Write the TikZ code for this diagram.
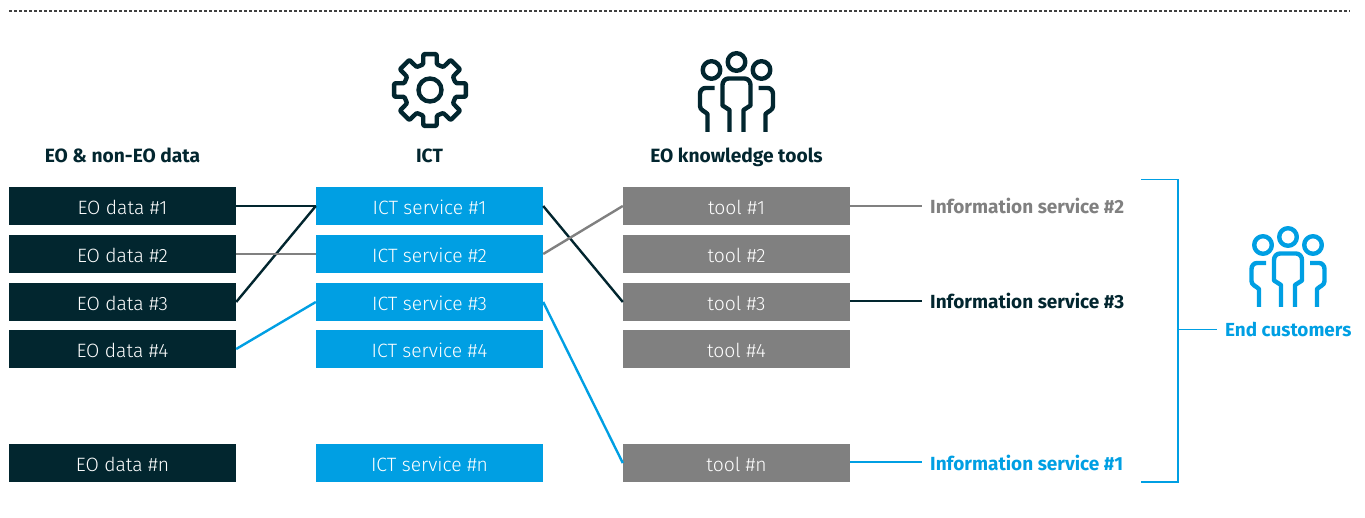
\documentclass[tikz,border=0pt]{standalone}
\usepackage{fontspec}
\setmainfont{Fira Sans}
\newfontfamily\lightf{Fira Sans Light}
\definecolor{dk}{HTML}{02262F}
\definecolor{bl}{HTML}{009FE3}
\definecolor{gy}{HTML}{808080}
\tikzset{
  x=1pt,y=-1pt,
  boxs/.style={minimum width=227pt,minimum height=38pt,inner sep=0pt,text=white,text height=18.5pt,text depth=2pt,font=\lightf\fontsize{19.3}{20}\selectfont},
  dkbox/.style={boxs,fill=dk},
  blbox/.style={boxs,fill=bl},
  gybox/.style={boxs,fill=gy},
  head/.style={font=\bfseries\fontsize{19.2}{20}\selectfont,text=dk,inner sep=0pt,text height=18pt,text depth=2pt},
  info/.style={font=\bfseries\fontsize{19}{20}\selectfont,anchor=west,inner sep=8pt,text height=18pt,text depth=2pt},
  conn/.style={line width=2.4pt},
  brk/.style={line width=1.1pt,draw=bl},
  people/.pic={
    \begin{scope}[line width=4.4pt,line join=round]
    \draw (0,-27) circle[radius=8.8];
    \draw (-25,-19) circle[radius=8.8];
    \draw (25,-19) circle[radius=8.8];
    \draw (-7,43) -- (-7,21) -- (-14,16.5) -- (-14,-4) to[out=90,in=180] (-8,-10.5) -- (8,-10.5) to[out=0,in=90] (14,-4) -- (14,16.5) -- (7,21) -- (7,43);
    \draw (-22,-1) -- (-31,-1) to[out=180,in=90] (-36.5,5) -- (-36.5,17) to[out=-90,in=135] (-29,25) -- (-29,43);
    \draw (22,-1) -- (31,-1) to[out=0,in=90] (36.5,5) -- (36.5,17) to[out=-90,in=45] (29,25) -- (29,43);
    \end{scope}
  }
}
\begin{document}
\begin{tikzpicture}
\useasboundingbox (0,0) rectangle (1365,518);
\draw[line width=2pt,draw=black!75,dash pattern=on 2.5pt off 2.5pt] (9,11) -- (1350,11);
% gear
\begin{scope}[shift={(430,90)}]
\draw[dk,line width=4.4pt,line join=round,rounded corners=1pt]
  (-15:26.5) \foreach \a in {0,45,...,315}{
     -- ({\a-15}:26.5) -- ({\a-10.5}:36.5) -- ({\a+10.5}:36.5) -- ({\a+15}:26.5)
  } -- cycle;
\draw[dk,line width=4.4pt] (0,0) circle[radius=11.5];
\end{scope}
\pic[dk] at (736.5,89) {people};
\pic[bl] at (1288,264) {people};
\node[head] (h1) at (122.5,155) {EO \& non-EO data};
\node[head] (h2) at (429.5,155) {ICT};
\node[head] (h3) at (736.5,155) {EO knowledge tools};
\node[dkbox] (e1) at (122.5,206) {EO data \#1};
\node[dkbox] (e2) at (122.5,254) {EO data \#2};
\node[dkbox] (e3) at (122.5,302) {EO data \#3};
\node[dkbox] (e4) at (122.5,349) {EO data \#4};
\node[dkbox] (en) at (122.5,463) {EO data \#n};
\node[blbox] (c1) at (429.5,206) {ICT service \#1};
\node[blbox] (c2) at (429.5,254) {ICT service \#2};
\node[blbox] (c3) at (429.5,302) {ICT service \#3};
\node[blbox] (c4) at (429.5,349) {ICT service \#4};
\node[blbox] (cn) at (429.5,463) {ICT service \#n};
\node[gybox] (t1) at (736.5,206) {tool \#1};
\node[gybox] (t2) at (736.5,254) {tool \#2};
\node[gybox] (t3) at (736.5,302) {tool \#3};
\node[gybox] (t4) at (736.5,349) {tool \#4};
\node[gybox] (tn) at (736.5,463) {tool \#n};
\node[info,text=gy] (i2) at (922,206) {Information service \#2};
\node[info,text=dk] (i3) at (922,301) {Information service \#3};
\node[info,text=bl] (i1) at (922,462) {Information service \#1};
\node[font=\bfseries\fontsize{18.9}{20}\selectfont,text=bl,anchor=west,inner sep=8pt,text height=16pt,text depth=2pt] (ec) at (1217,329.5) {End customers};
\draw[conn,dk] (e1.east) -- (c1.west);
\draw[conn,dk] (e3.east) -- (c1.west);
\draw[conn,gy] (e2.east) -- (c2.west);
\draw[conn,bl] (e4.east) -- (c3.west);
\draw[conn,dk] (c1.east) -- (t3.west);
\draw[conn,gy] (c2.east) -- (t1.west);
\draw[conn,bl] (c3.east) -- (tn.west);
\draw[conn,gy] (t1.east) -- (i2.west);
\draw[conn,dk] (t3.east |- i3.west) -- (i3.west);
\draw[conn,bl] (tn.east |- i1.west) -- (i1.west);
\coordinate (bt) at (1141,179.5);
\coordinate (bb) at (1141,482);
\coordinate (bm) at (1178,329.5);
\draw[brk] (bt) -- (1178,179.5) -- (1178,482) -- (bb);
\draw[brk] (bm) -- (ec.west);
\end{tikzpicture}
\end{document}
